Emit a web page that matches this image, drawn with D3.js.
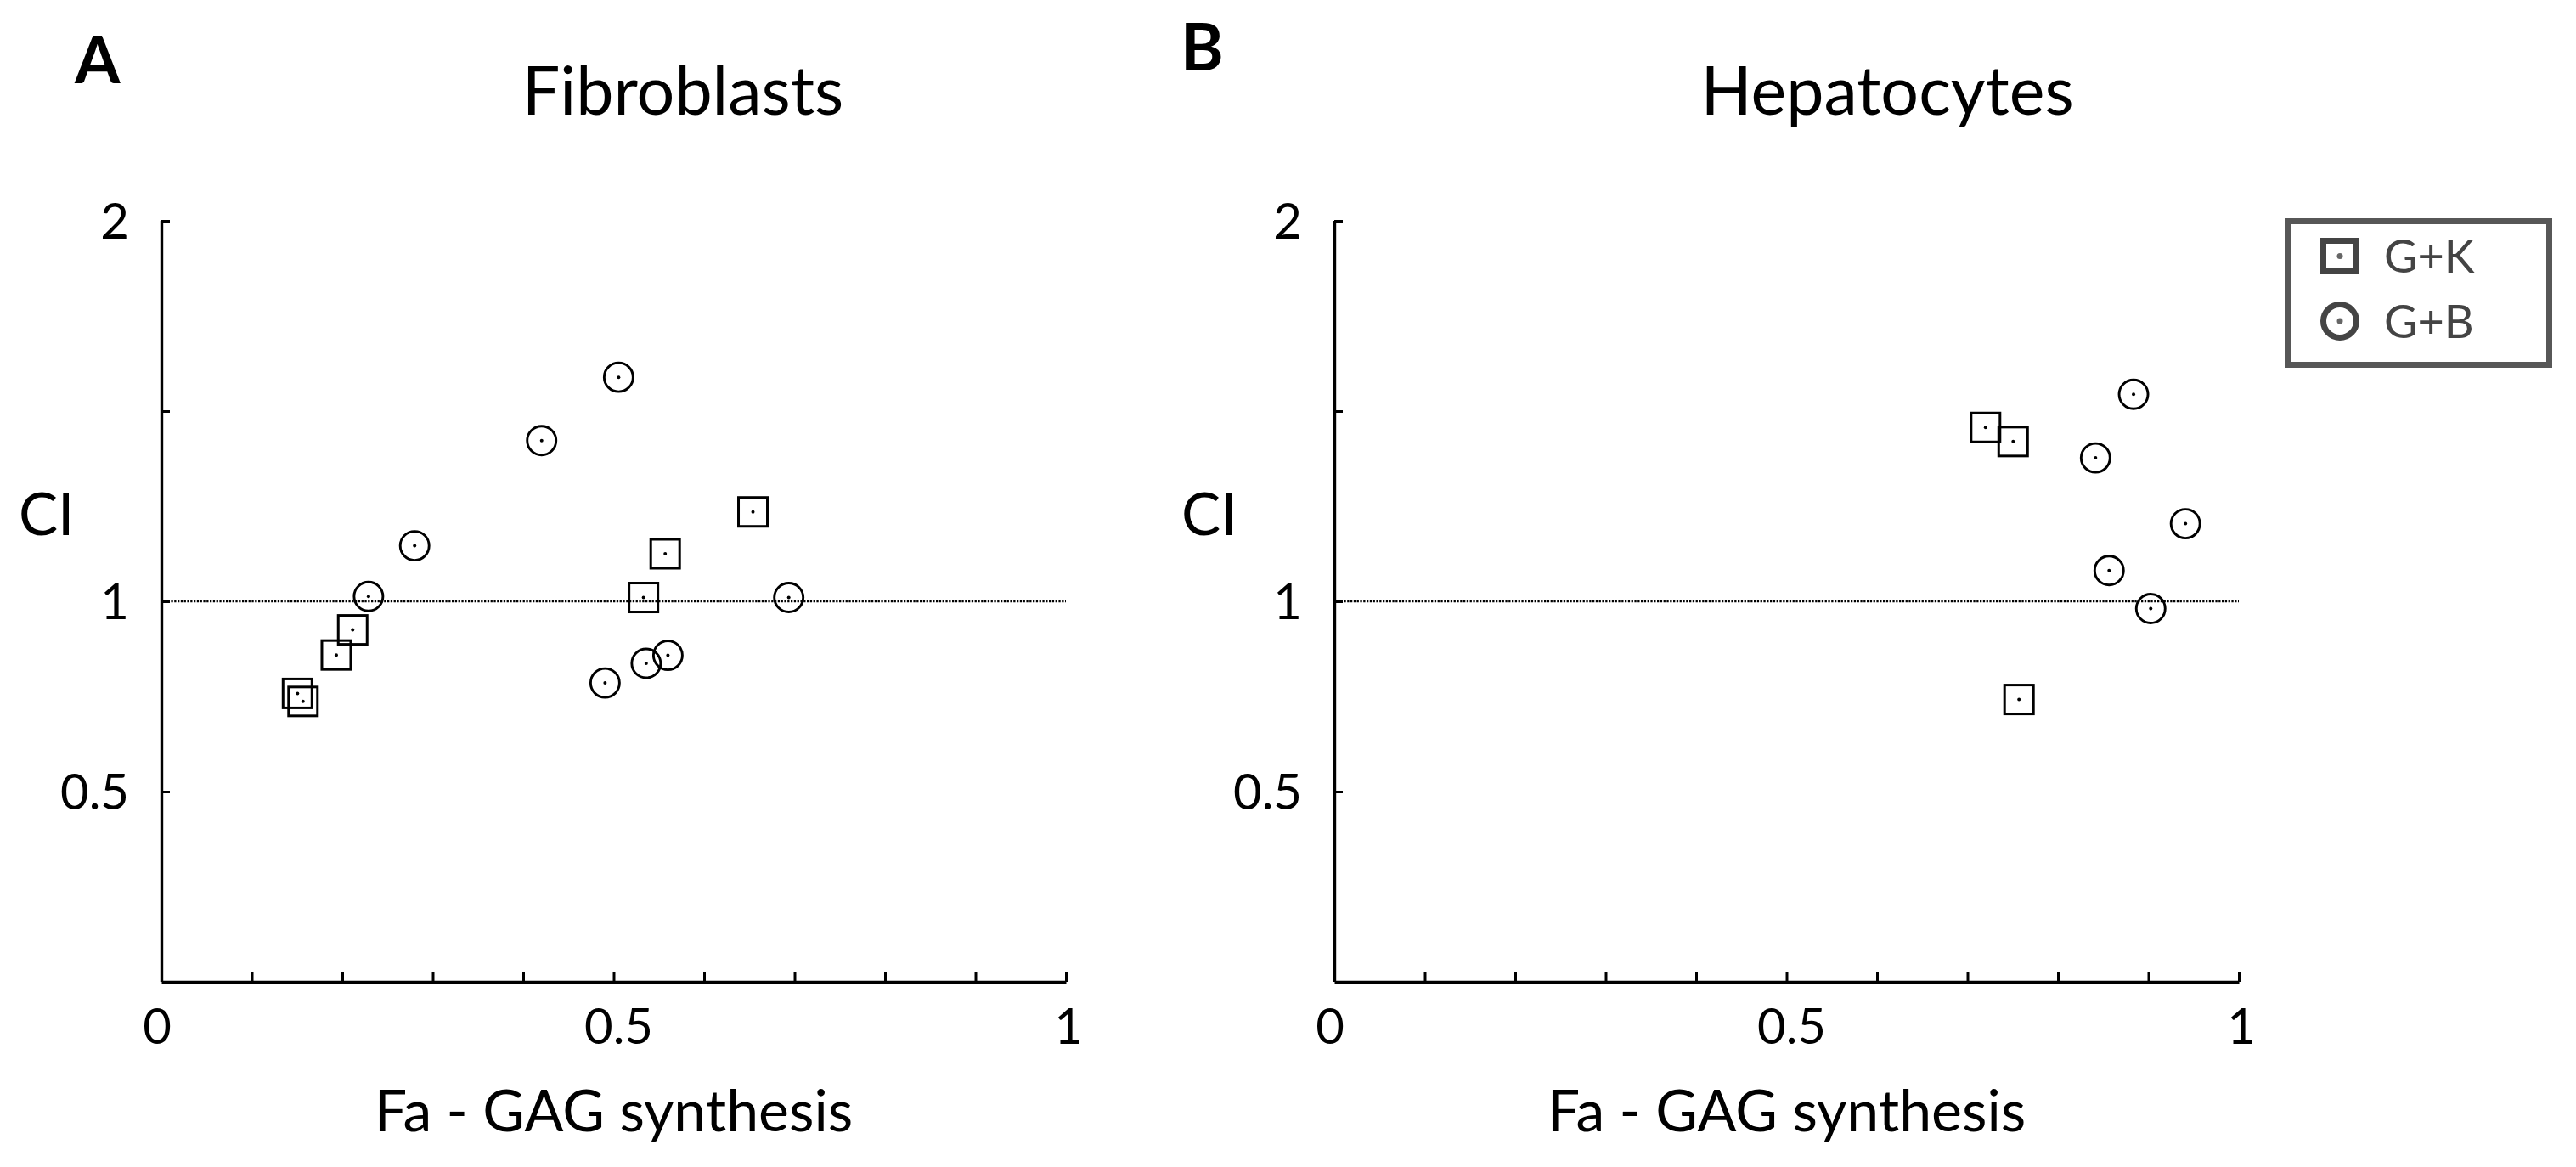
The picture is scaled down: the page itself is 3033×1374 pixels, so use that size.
<!DOCTYPE html>
<html>
<head>
<meta charset="utf-8">
<script src="https://cdn.jsdelivr.net/npm/d3@7"></script>
<style>
  html, body { margin: 0; padding: 0; background: #fff; }
  svg { display: block; }
  text { font-family: Lato, "Open Sans", sans-serif; }
</style>
</head>
<body>
<svg id="chart" width="3033" height="1374"></svg>
<script>
// ---------- data ----------
const panelLetters = ["A", "B"];
const panelTitles = ["Fibroblasts", "Hepatocytes"];
const seriesNames = ["G+K", "G+B"];

// Fibroblasts
const fibroGK_x = [0.654, 0.557, 0.533, 0.2115, 0.1934, 0.1505, 0.1566];
const fibroGK_y = [1.235, 1.125, 1.010, 0.925, 0.859, 0.758, 0.737];
const fibroGB_x = [0.5055, 0.4204, 0.280, 0.229, 0.6936, 0.560, 0.536, 0.4905];
const fibroGB_y = [1.589, 1.4225, 1.146, 1.013, 1.010, 0.858, 0.837, 0.7855];
// Hepatocytes
const hepGK_x = [0.720, 0.7505, 0.757];
const hepGK_y = [1.457, 1.420, 0.742];
const hepGB_x = [0.8836, 0.8416, 0.941, 0.8566, 0.9026];
const hepGB_y = [1.544, 1.377, 1.204, 1.081, 0.981];

const xTickValues = [0, 0.1, 0.2, 0.3, 0.4, 0.5, 0.6, 0.7, 0.8, 0.9, 1];
const xTickLabels = [0, 0.5, 1];
const yTickValues = [0.5, 1, 1.5, 2];
const yTickLabels = [0.5, 1, 2];
const refLineValue = 1;
const xAxisTitle = "Fa - GAG synthesis";
const yAxisTitle = "CI";

// ---------- layout ----------
const svg = d3.select("#chart");
const panels = [
  { left: 190, right: 1255, letterX: 88, letterY: 98, titleX: 804, ciX: 22,
    gk: d3.zip(fibroGK_x, fibroGK_y), gb: d3.zip(fibroGB_x, fibroGB_y) },
  { left: 1571, right: 2636, letterX: 1390, letterY: 83, titleX: 2222, ciX: 1391,
    gk: d3.zip(hepGK_x, hepGK_y), gb: d3.zip(hepGB_x, hepGB_y) }
];
const plotTop = 260, plotBottom = 1156;

panels.forEach((p, i) => {
  const x = d3.scaleLinear().domain([0, 1]).range([p.left, p.right]);
  const y = d3.scaleLinear().domain([0, 2]).range([plotBottom, plotTop]);
  const g = svg.append("g");

  // panel letter
  g.append("text").attr("x", p.letterX).attr("y", p.letterY)
    .attr("font-size", 77).attr("font-weight", 700).attr("fill", "#000")
    .text(panelLetters[i]);
  // title
  g.append("text").attr("x", p.titleX).attr("y", 135)
    .attr("text-anchor", "middle").attr("font-size", 79).attr("fill", "#000")
    .text(panelTitles[i]);

  // x axis (ticks inward)
  const xAxis = d3.axisBottom(x).tickValues(xTickValues)
    .tickSizeInner(-12).tickSizeOuter(0).tickFormat("");
  const gx = g.append("g").attr("transform", `translate(0,${plotBottom})`).call(xAxis);
  gx.select(".domain").attr("stroke", "#000").attr("stroke-width", 3.4);
  gx.selectAll(".tick line").attr("stroke", "#000").attr("stroke-width", 3);

  g.selectAll(".xlab").data(xTickLabels).join("text")
    .attr("x", d => x(d) + (d === 0 ? -5 : d === 0.5 ? 6 : 3))
    .attr("y", 1229).attr("text-anchor", "middle")
    .attr("font-size", 58).attr("fill", "#000")
    .text(d => d);

  // y axis (ticks inward)
  const yAxis = d3.axisLeft(y).tickValues(yTickValues)
    .tickSizeInner(-10).tickSizeOuter(0).tickFormat("");
  const gy = g.append("g").attr("transform", `translate(${p.left},0)`).call(yAxis);
  gy.select(".domain").attr("stroke", "#000").attr("stroke-width", 3.4)
    .attr("d", `M0.5,${plotBottom}V${plotTop}`);
  gy.selectAll(".tick line").attr("stroke", "#000").attr("stroke-width", 3);

  g.selectAll(".ylab").data(yTickLabels).join("text")
    .attr("x", p.left - 38).attr("y", d => y(d))
    .attr("dy", "0.36em").attr("text-anchor", "end")
    .attr("font-size", 58).attr("fill", "#000")
    .text(d => d);

  // axis titles
  g.append("text").attr("x", (p.left + p.right) / 2).attr("y", 1332)
    .attr("text-anchor", "middle").attr("font-size", 68).attr("fill", "#000")
    .text(xAxisTitle);
  g.append("text").attr("x", p.ciX).attr("y", 630)
    .attr("font-size", 69).attr("fill", "#000")
    .text(yAxisTitle);

  // reference line at CI = 1
  g.append("line")
    .attr("x1", x(0)).attr("x2", x(1))
    .attr("y1", y(refLineValue)).attr("y2", y(refLineValue))
    .attr("stroke", "#000").attr("stroke-width", 2.6)
    .attr("stroke-dasharray", "2.3 1.5");

  // G+K squares
  const sq = 34;
  g.selectAll(".gk").data(p.gk).join("rect")
    .attr("x", d => x(d[0]) - sq / 2).attr("y", d => y(d[1]) - sq / 2)
    .attr("width", sq).attr("height", sq)
    .attr("fill", "none").attr("stroke", "#000").attr("stroke-width", 3);
  // G+B circles
  g.selectAll(".gb").data(p.gb).join("circle")
    .attr("cx", d => x(d[0])).attr("cy", d => y(d[1])).attr("r", 17)
    .attr("fill", "none").attr("stroke", "#000").attr("stroke-width", 2.9);
  // centre dots
  g.selectAll(".dot").data(p.gk.concat(p.gb)).join("circle")
    .attr("cx", d => x(d[0])).attr("cy", d => y(d[1])).attr("r", 2)
    .attr("fill", "#000");
});

// ---------- legend ----------
const lg = svg.append("g");
lg.append("rect").attr("x", 2693.5).attr("y", 260.5).attr("width", 308).attr("height", 169)
  .attr("fill", "#fff").attr("stroke", "#575757").attr("stroke-width", 7);
const legendRowsY = [301.5, 378];
seriesNames.forEach((name, i) => {
  const cy = legendRowsY[i];
  if (i === 0) {
    lg.append("rect").attr("x", 2735.5).attr("y", cy - 18).attr("width", 39).attr("height", 36)
      .attr("fill", "none").attr("stroke", "#444").attr("stroke-width", 7);
  } else {
    lg.append("circle").attr("cx", 2755).attr("cy", cy).attr("r", 19.5)
      .attr("fill", "none").attr("stroke", "#444").attr("stroke-width", 7);
  }
  lg.append("circle").attr("cx", 2755).attr("cy", cy).attr("r", 3.5).attr("fill", "#666");
  lg.append("text").attr("x", 2807).attr("y", cy + 19.5)
    .attr("font-size", 54).attr("fill", "#444").text(name);
});
</script>
</body>
</html>
